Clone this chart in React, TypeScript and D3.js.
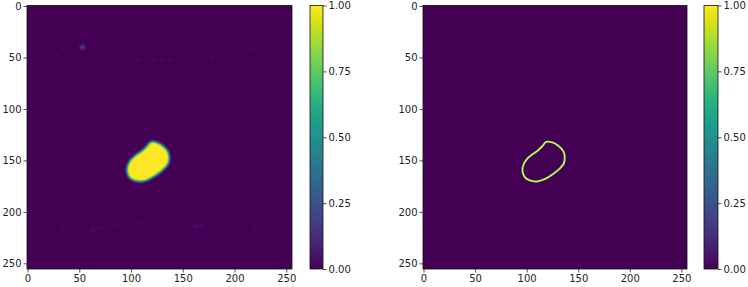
import React, { useRef, useEffect } from "react";
import * as d3 from "d3";

// outline of the segmented region, in image pixel coords (x, y)
const maskOutline: [number, number][] = [
  [119, 132], [125, 132.5], [131, 136], [135.5, 141], [137, 147], [136, 153],
  [132, 158], [126, 163], [118, 168], [110, 170.5], [103, 169.5], [98, 166],
  [96, 160], [97, 154], [100, 149], [105, 144.5], [110, 141], [115, 136.5],
];

// faint specks in the prediction map: [x, y, value, radius]
const specks: [number, number, number, number][] = [
  [53, 40, 0.2, 2.4], [35, 41, 0.08, 1.2], [65, 41, 0.06, 1.2], [218, 42, 0.06, 1.2],
  [178, 50, 0.04, 1.5], [107, 52, 0.05, 1.5], [122, 52, 0.05, 1.5], [130, 52, 0.05, 1.5],
  [138, 52, 0.05, 1.5], [35, 217, 0.07, 1.2], [63, 217, 0.08, 1.4], [68, 216, 0.06, 1.2],
  [74, 214, 0.05, 1.2], [86, 212, 0.06, 1.2], [107, 211, 0.06, 1.2], [162, 214, 0.08, 1.5],
  [168, 214, 0.06, 1.5], [190, 217, 0.04, 1.2], [220, 217, 0.06, 1.2],
];

const axisTicks = [0, 50, 100, 150, 200, 250];
const cbarTicks = [0, 0.25, 0.5, 0.75, 1];

const panels = [
  { key: "pred", x0: 27, x1: 292, cb0: 310, cb1: 323, mode: "fill" },
  { key: "edge", x0: 423, x1: 687, cb0: 704, cb1: 718, mode: "stroke" },
];
const Y0 = 5.5;
const Y1 = 269;

const App = () => {
  const svgRef = useRef(null);

  useEffect(() => {
    const svg = d3.select(svgRef.current);
    svg.selectAll("*").remove();
    const defs = svg.append("defs");

    // viridis lookup tables for feComponentTransfer
    const n = 32;
    const cols = d3.range(n + 1).map((i) => d3.rgb(d3.interpolateViridis(i / n)));
    const tbl = (c) => cols.map((d) => (d[c] / 255).toFixed(4)).join(" ");

    const grad = defs.append("linearGradient").attr("id", "vir")
      .attr("x1", 0).attr("y1", 1).attr("x2", 0).attr("y2", 0);
    cols.forEach((c, i) => grad.append("stop").attr("offset", i / n).attr("stop-color", c.formatHex()));

    const font = "DejaVu Sans, sans-serif";

    panels.forEach((p) => {
      const x = d3.scaleLinear().domain([-0.5, 255.5]).range([p.x0, p.x1]);
      const y = d3.scaleLinear().domain([-0.5, 255.5]).range([Y0, Y1]);
      const pad = 10;

      const f = defs.append("filter").attr("id", "f-" + p.key)
        .attr("filterUnits", "userSpaceOnUse")
        .attr("x", p.x0 - pad).attr("y", Y0 - pad)
        .attr("width", p.x1 - p.x0 + 2 * pad).attr("height", Y1 - Y0 + 2 * pad)
        .attr("color-interpolation-filters", "sRGB");
      f.append("feGaussianBlur").attr("stdDeviation", p.mode === "fill" ? 1.3 : 0.45);
      const ct = f.append("feComponentTransfer");
      ct.append("feFuncR").attr("type", "table").attr("tableValues", tbl("r"));
      ct.append("feFuncG").attr("type", "table").attr("tableValues", tbl("g"));
      ct.append("feFuncB").attr("type", "table").attr("tableValues", tbl("b"));

      defs.append("clipPath").attr("id", "c-" + p.key)
        .append("rect").attr("x", p.x0).attr("y", Y0)
        .attr("width", p.x1 - p.x0).attr("height", Y1 - Y0);

      const g = svg.append("g").attr("clip-path", `url(#c-${p.key})`)
        .append("g").attr("filter", `url(#f-${p.key})`);
      g.append("rect").attr("x", p.x0 - pad).attr("y", Y0 - pad)
        .attr("width", p.x1 - p.x0 + 2 * pad).attr("height", Y1 - Y0 + 2 * pad).attr("fill", "#000");

      const line = d3.line().x((d) => x(d[0])).y((d) => y(d[1])).curve(d3.curveCatmullRomClosed);

      if (p.mode === "fill") {
        g.selectAll("circle").data(specks).enter().append("circle")
          .attr("cx", (d) => x(d[0])).attr("cy", (d) => y(d[1]))
          .attr("r", (d) => d[3])
          .attr("fill", (d) => d3.rgb(d[2] * 255, d[2] * 255, d[2] * 255).formatHex());
        g.append("path").attr("d", line(maskOutline)).attr("fill", "#fff");
      } else {
        g.append("path").attr("d", line(maskOutline)).attr("fill", "none")
          .attr("stroke", "#fff").attr("stroke-width", 1.9);
      }

      svg.append("rect").attr("x", p.x0).attr("y", Y0)
        .attr("width", p.x1 - p.x0).attr("height", Y1 - Y0)
        .attr("fill", "none").attr("stroke", "#111").attr("stroke-width", 0.8);

      const xAxis = d3.axisBottom(x).tickValues(axisTicks).tickSizeOuter(0).tickSize(3.5).tickPadding(2);
      const yAxis = d3.axisLeft(y).tickValues(axisTicks).tickSizeOuter(0).tickSize(3.5).tickPadding(2);
      [svg.append("g").attr("transform", `translate(0,${Y1})`).call(xAxis),
       svg.append("g").attr("transform", `translate(${p.x0},0)`).call(yAxis)].forEach((a) => {
        a.select(".domain").remove();
        a.selectAll("line").attr("stroke", "#222").attr("stroke-width", 0.8);
        a.selectAll("text").attr("font-family", font).attr("font-size", 10).attr("fill", "#222");
      });

      // colorbar
      const cy = d3.scaleLinear().domain([0, 1]).range([Y1, Y0]);
      svg.append("rect").attr("x", p.cb0).attr("y", Y0)
        .attr("width", p.cb1 - p.cb0).attr("height", Y1 - Y0)
        .attr("fill", "url(#vir)").attr("stroke", "#111").attr("stroke-width", 0.8);
      const cAxis = d3.axisRight(cy).tickValues(cbarTicks).tickFormat(d3.format(".2f"))
        .tickSizeOuter(0).tickSize(3.5).tickPadding(2);
      const ca = svg.append("g").attr("transform", `translate(${p.cb1},0)`).call(cAxis);
      ca.select(".domain").remove();
      ca.selectAll("line").attr("stroke", "#222").attr("stroke-width", 0.8);
      ca.selectAll("text").attr("font-family", font).attr("font-size", 10).attr("fill", "#222");
    });

    return () => {};
  }, []);

  return (
    <svg ref={svgRef} width={748} height={287}
      style={{ position: "absolute", left: 0, top: 0, background: "#fff" }} />
  );
};

export default App;
